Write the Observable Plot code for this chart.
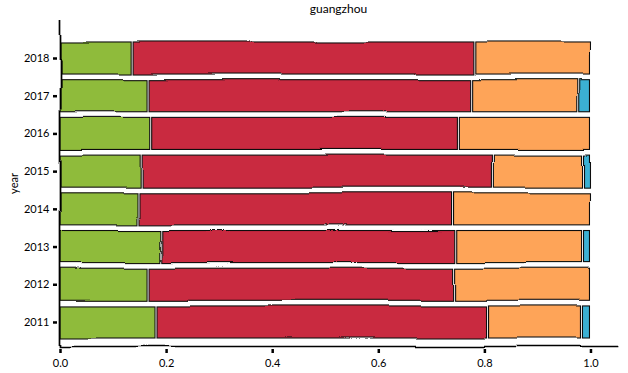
<!DOCTYPE html>
<html><head><meta charset="utf-8">
<script src="https://cdn.jsdelivr.net/npm/d3@7"></script>
<script src="https://cdn.jsdelivr.net/npm/@observablehq/plot@0.6"></script>
<style>
body{margin:0;background:#fff;font-family:Lato, sans-serif;}
#title{height:16px;line-height:18px;font-size:12px;text-align:center;width:557px;margin-left:60px;color:#000}
#chart svg{display:block}
</style></head><body>
<div id="title">guangzhou</div>
<div id="chart"></div>
<script>
const years = [2011, 2012, 2013, 2014, 2015, 2016, 2017, 2018];
const seriesNames = ["A", "B", "C", "D"];
const green  = [0.181, 0.166, 0.190, 0.147, 0.153, 0.171, 0.166, 0.136];
const red    = [0.625, 0.576, 0.556, 0.593, 0.664, 0.580, 0.610, 0.646];
const orange = [0.177, 0.258, 0.239, 0.260, 0.168, 0.249, 0.200, 0.218];
const blue   = [0.017, 0.000, 0.015, 0.000, 0.015, 0.000, 0.024, 0.000];
const colors = ["#8fbb3a", "#c92a40", "#fea459", "#3bb0d3"];
const xTicks = [0, 0.2, 0.4, 0.6, 0.8, 1.0];

const series = [green, red, orange, blue];
const data = [];
years.forEach((yr, i) => {
  series.forEach((arr, j) => {
    if (arr[i] > 0) data.push({year: String(yr), series: seriesNames[j], value: arr[i]});
  });
});

const chart = Plot.plot({
  width: 628, height: 357,
  marginLeft: 60, marginRight: 11, marginTop: 4, marginBottom: 27,
  style: {fontFamily: "Lato, sans-serif", fontSize: "11px", color: "#000", background: "white"},
  x: {domain: [0, 1.05], axis: null},
  y: {domain: years.map(String).reverse(), paddingInner: 0.15, paddingOuter: 0.3975, align: 0.733, round: false, axis: null},
  color: {domain: seriesNames, range: colors},
  marks: [
    Plot.barX(data, Plot.stackX({y: "year", x: "value", fill: "series", stroke: "#111", strokeWidth: 1.1, insetLeft: 1, insetRight: 1})),
    Plot.ruleX([0], {stroke: "#000", strokeWidth: 1.7}),
    Plot.frame({anchor: "bottom", stroke: "#000", strokeWidth: 1.7}),
    Plot.axisX({ticks: xTicks, tickFormat: d3.format(".1f"), tickSize: 4, tickPadding: 6, strokeWidth: 2.5, dy: 3, label: null}),
    Plot.axisY({tickSize: 4, tickPadding: 4, strokeWidth: 2.5, dx: -3, label: "year", labelAnchor: "center", labelOffset: 50})
  ]
});
document.getElementById("chart").appendChild(chart);

const svg = d3.select(chart);
const defs = svg.insert("defs", ":first-child");
const f = defs.append("filter").attr("id", "wobble").attr("filterUnits", "userSpaceOnUse")
  .attr("x", 0).attr("y", 0).attr("width", 628).attr("height", 357);
f.append("feTurbulence").attr("type", "fractalNoise").attr("baseFrequency", "0.01 0.015").attr("numOctaves", 1).attr("seed", 7).attr("result", "n");
f.append("feDisplacementMap").attr("in", "SourceGraphic").attr("in2", "n").attr("scale", 5)
  .attr("xChannelSelector", "R").attr("yChannelSelector", "G").attr("result", "d");
f.append("feGaussianBlur").attr("in", "d").attr("stdDeviation", 0.35);
svg.selectAll('g[aria-label="bar"], g[aria-label="rule"], [aria-label="frame"]').attr("filter", "url(#wobble)");
</script>
</body></html>
